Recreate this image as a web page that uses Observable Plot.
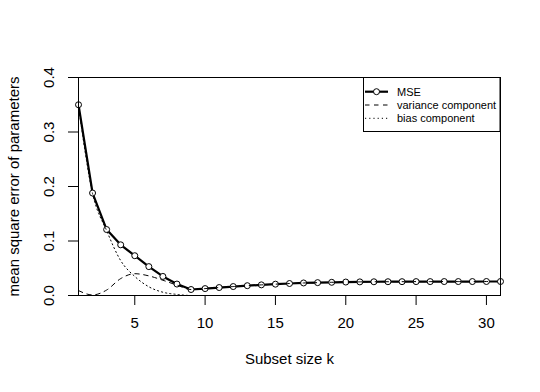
<!DOCTYPE html>
<html>
<head>
<meta charset="utf-8">
<script src="https://cdn.jsdelivr.net/npm/d3@7"></script>
<script src="https://cdn.jsdelivr.net/npm/@observablehq/plot@0.6"></script>
<style>
  html, body { margin: 0; padding: 0; background: #fff; }
  #chart { width: 540px; height: 392px; }
</style>
</head>
<body>
<div id="chart"></div>
<script>
const k = [1,2,3,4,5,6,7,8,9,10,11,12,13,14,15,16,17,18,19,20,21,22,23,24,25,26,27,28,29,30,31];
const mse = [0.350,0.188,0.121,0.093,0.073,0.053,0.035,0.021,0.011,0.0127,0.0146,0.0164,0.0180,0.0195,0.0208,0.0220,0.0230,0.0236,0.0242,0.0247,0.0250,0.0252,0.0253,0.0254,0.0255,0.0255,0.0256,0.0256,0.0256,0.0257,0.0257];
const variance = [0.009,0.001,0.010,0.031,0.040,0.036,0.028,0.019,0.011,0.0127,0.0146,0.0164,0.0180,0.0195,0.0208,0.0220,0.0230,0.0236,0.0242,0.0247,0.0250,0.0252,0.0253,0.0254,0.0255,0.0255,0.0256,0.0256,0.0256,0.0257,0.0257];
const bias = [0.348,0.187,0.119,0.064,0.035,0.016,0.006,0.002,0.000,0,0,0,0,0,0,0,0,0,0,0,0,0,0,0,0,0,0,0,0,0,0];
const xTicks = [5,10,15,20,25,30];
const yTicks = [0,0.1,0.2,0.3,0.4];
const xTitle = "Subset size k";
const yTitle = "mean square error of parameters";
const legendLabels = ["MSE","variance component","bias component"];

const rows = k.map((d,i) => ({k:d, mse:mse[i], variance:variance[i], bias:bias[i]}));

const chart = Plot.plot({
  width: 540,
  height: 392,
  marginLeft: 78,
  marginRight: 40,
  marginTop: 77,
  marginBottom: 97,
  style: {fontFamily: "'Liberation Sans', Arial, sans-serif", fontSize: "15px", color: "#000", background: "#fff"},
  x: {domain: [1,31]},
  y: {domain: [0,0.4]},
  marks: [
    Plot.axisX({ticks: xTicks, tickSize: 10, tickPadding: 12, label: null, fontSize: 15}),
    Plot.axisY({ticks: yTicks, tickSize: 10, tickFormat: () => "", label: null}),
    Plot.text(yTicks, {x: 1, y: d => d, text: d => d.toFixed(1), rotate: -90, dx: -29, fontSize: 15, textAnchor: "middle"}),
    Plot.text([xTitle], {frameAnchor: "bottom", dy: 68, fontSize: 15}),
    Plot.text([yTitle], {frameAnchor: "left", dx: -64, rotate: -90, fontSize: 15, textAnchor: "middle"}),
    Plot.line(rows, {x: "k", y: "mse", stroke: "#000", strokeWidth: 2.2}),
    Plot.dot(rows, {x: "k", y: "mse", r: 3, fill: "#fff", stroke: "#000", strokeWidth: 1}),
    Plot.line(rows, {x: "k", y: "variance", stroke: "#000", strokeWidth: 1, strokeDasharray: "4.5,4.5", curve: "monotone-x"}),
    Plot.line(rows, {x: "k", y: "bias", stroke: "#000", strokeWidth: 1, strokeDasharray: "1.2,3", curve: "monotone-x"}),
    Plot.frame({stroke: "#000", strokeWidth: 1})
  ]
});

document.getElementById("chart").appendChild(chart);

// Legend (top-right, R style)
const svg = d3.select(chart);
const lg = svg.append("g").attr("font-family", "'Liberation Sans', Arial, sans-serif").attr("font-size", 11).attr("text-anchor", "start");
lg.append("rect").attr("x", 363.5).attr("y", 77.5).attr("width", 136.5).attr("height", 54)
  .attr("fill", "#fff").attr("stroke", "#000").attr("stroke-width", 1);
const ys = [91.7, 105, 118.3];
const dashes = [null, "4.5,4.5", "1.2,3"];
const widths = [2.2, 1, 1];
legendLabels.forEach((lab, i) => {
  lg.append("line").attr("x1", 365).attr("x2", 388).attr("y1", ys[i]).attr("y2", ys[i])
    .attr("stroke", "#000").attr("stroke-width", widths[i]).attr("stroke-dasharray", dashes[i]);
  if (i === 0) lg.append("circle").attr("cx", 376.5).attr("cy", ys[i]).attr("r", 3).attr("fill", "#fff").attr("stroke", "#000");
  lg.append("text").attr("x", 397).attr("y", ys[i]).attr("dy", "0.35em").attr("text-anchor", "start").attr("fill", "#000").text(lab);
});
</script>
</body>
</html>
